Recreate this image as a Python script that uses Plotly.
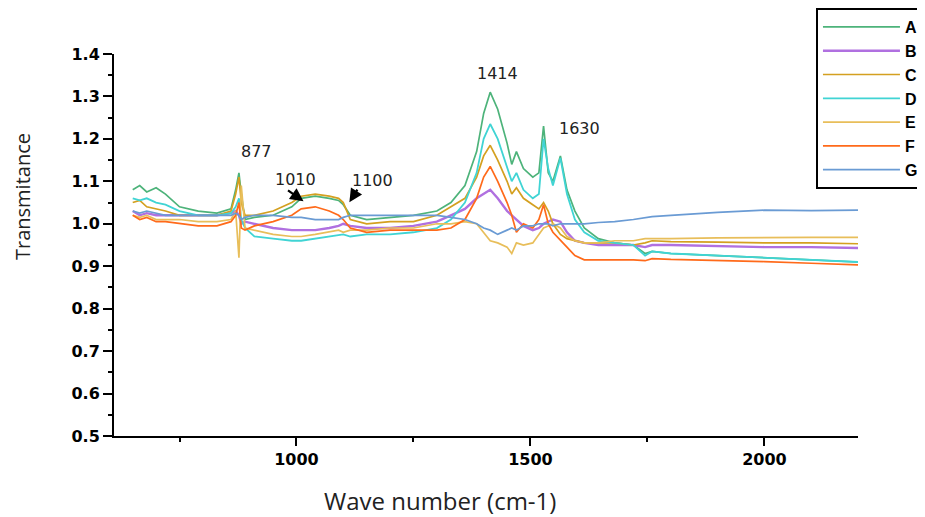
import plotly.graph_objects as go

wavenumber = [650, 665, 680, 700, 720, 750, 790, 830, 860, 870, 877, 882, 890, 910, 950, 990,
              1010, 1040, 1070, 1090, 1100, 1115, 1150, 1200, 1250, 1300, 1330, 1360, 1385, 1400,
              1414, 1430, 1450, 1460, 1470, 1485, 1505, 1518, 1528, 1538, 1548, 1564, 1578, 1595,
              1615, 1645, 1680, 1720, 1745, 1760, 1800, 1900, 2000, 2100, 2200]

series_A = [1.08, 1.09, 1.075, 1.085, 1.07, 1.04, 1.03, 1.025, 1.035, 1.08, 1.12, 1.07, 1.01, 1.015, 1.02, 1.04,
            1.06, 1.065, 1.06, 1.055, 1.045, 1.02, 1.01, 1.015, 1.02, 1.03, 1.05, 1.09, 1.17, 1.26,
            1.31, 1.27, 1.19, 1.14, 1.17, 1.13, 1.11, 1.12, 1.23, 1.12, 1.10, 1.16, 1.08, 1.03,
            0.99, 0.965, 0.955, 0.95, 0.93, 0.935, 0.93, 0.925, 0.92, 0.915, 0.91]
series_B = [1.03, 1.02, 1.025, 1.02, 1.02, 1.02, 1.02, 1.02, 1.025, 1.03, 1.02, 1.0, 1.005, 1.0, 0.99, 0.985,
            0.985, 0.985, 0.99, 0.995, 1.0, 0.995, 0.99, 0.99, 0.995, 1.005, 1.02, 1.035, 1.06, 1.07,
            1.08, 1.06, 1.03, 1.02, 1.01, 0.995, 0.985, 0.99, 1.0, 1.005, 1.01, 1.005, 0.98, 0.96,
            0.955, 0.95, 0.95, 0.95, 0.945, 0.95, 0.95, 0.948, 0.945, 0.945, 0.943]
series_C = [1.05, 1.055, 1.04, 1.035, 1.03, 1.02, 1.02, 1.02, 1.03, 1.07, 1.11, 1.05, 1.02, 1.02, 1.03, 1.05,
            1.065, 1.07, 1.065, 1.06, 1.05, 1.01, 1.0, 1.005, 1.005, 1.02, 1.04, 1.06, 1.11, 1.16,
            1.185, 1.15, 1.10, 1.07, 1.085, 1.06, 1.045, 1.035, 1.05, 1.03, 1.0, 0.975, 0.965, 0.96,
            0.955, 0.955, 0.955, 0.95, 0.955, 0.96, 0.958, 0.957, 0.955, 0.955, 0.953]
series_D = [1.06, 1.055, 1.06, 1.05, 1.045, 1.03, 1.02, 1.02, 1.025, 1.04, 1.06, 1.01, 0.99, 0.97, 0.965, 0.96,
            0.96, 0.965, 0.97, 0.975, 0.975, 0.97, 0.975, 0.975, 0.98, 0.99, 1.01, 1.05, 1.12, 1.2,
            1.235, 1.2, 1.13, 1.10, 1.12, 1.08, 1.06, 1.07, 1.2, 1.13, 1.09, 1.155, 1.07, 1.01,
            0.98, 0.96, 0.955, 0.95, 0.925, 0.935, 0.93, 0.925, 0.92, 0.915, 0.91]
series_E = [1.02, 1.015, 1.02, 1.01, 1.01, 1.01, 1.005, 1.005, 1.01, 1.03, 0.92, 1.09, 0.99, 0.985, 0.975, 0.97,
            0.97, 0.975, 0.98, 0.985, 0.98, 0.985, 0.985, 0.99, 0.99, 1.0, 1.0, 1.005, 1.0, 0.98,
            0.96, 0.955, 0.945, 0.93, 0.955, 0.95, 0.955, 0.975, 0.99, 0.995, 1.0, 0.99, 0.97, 0.96,
            0.955, 0.955, 0.96, 0.96, 0.965, 0.965, 0.965, 0.967, 0.968, 0.968, 0.968]
series_F = [1.02, 1.01, 1.015, 1.005, 1.005, 1.0, 0.995, 0.995, 1.005, 1.02, 1.05, 0.99, 0.985, 0.995, 1.005, 1.02,
            1.035, 1.04, 1.03, 1.02, 1.01, 0.99, 0.98, 0.985, 0.985, 0.985, 0.99, 1.01, 1.06, 1.11,
            1.135, 1.1, 1.05, 1.02, 0.98, 1.0, 0.99, 1.01, 1.045, 1.0, 0.98, 0.96, 0.945, 0.925,
            0.915, 0.915, 0.915, 0.915, 0.913, 0.918, 0.916, 0.914, 0.911, 0.907, 0.903]
series_G = [1.03, 1.025, 1.03, 1.025, 1.02, 1.02, 1.02, 1.02, 1.02, 1.025, 1.02, 1.01, 1.015, 1.02, 1.02, 1.015,
            1.015, 1.01, 1.01, 1.01, 1.015, 1.02, 1.02, 1.02, 1.02, 1.02, 1.015, 1.01, 1.0, 0.99,
            0.985, 0.975, 0.985, 0.99, 0.985, 0.995, 0.995, 1.0, 1.0, 1.0, 0.995, 1.0, 1.0, 1.0,
            1.0, 1.003, 1.005, 1.01, 1.015, 1.017, 1.02, 1.027, 1.032, 1.031, 1.032]

series_names = ["A", "B", "C", "D", "E", "F", "G"]
series_values = [series_A, series_B, series_C, series_D, series_E, series_F, series_G]
series_colors = ["#4DB37A", "#B070E0", "#D4A020", "#40D4D4", "#E8BE5A", "#FF6A1A", "#6A9BD4"]
series_widths = [1.7, 2.4, 1.7, 1.8, 1.7, 1.7, 1.7]

peak_labels = ["877", "1010", "1100", "1414", "1630"]
peak_label_x = [915, 998, 1162, 1429, 1605]
peak_label_y = [1.171, 1.105, 1.103, 1.353, 1.225]

fig = go.Figure()
for name, vals, col, w in zip(series_names, series_values, series_colors, series_widths):
    fig.add_trace(go.Scatter(x=wavenumber, y=vals, mode="lines", name=name,
                             line=dict(color=col, width=w)))

for t, x, y in zip(peak_labels, peak_label_x, peak_label_y):
    fig.add_annotation(x=x, y=y, text=t, showarrow=False,
                       font=dict(family="DejaVu Sans", size=16, color="#222222"))

# arrows
fig.add_annotation(x=1015, y=1.053, ax=-17, ay=-12, text="", showarrow=True,
                   arrowhead=2, arrowsize=1.2, arrowwidth=2.2, arrowcolor="black")
fig.add_annotation(x=1113, y=1.051, ax=9, ay=-14, text="", showarrow=True,
                   arrowhead=2, arrowsize=1.2, arrowwidth=2.2, arrowcolor="black")

# axis titles
fig.add_annotation(xref="paper", yref="paper", x=0.438, y=-0.17, xanchor="center", yanchor="middle",
                   text="Wave number (cm-1)", showarrow=False,
                   font=dict(family="Open Sans", size=24, color="#222222"))
fig.add_annotation(xref="paper", yref="paper", x=-0.1223, y=0.6257, xanchor="center", yanchor="middle",
                   text="Transmitance", textangle=-90, showarrow=False,
                   font=dict(family="Open Sans", size=20, color="#222222"))

fig.update_layout(
    width=925, height=517,
    margin=dict(l=106, r=75, t=46, b=89, autoexpand=False),
    plot_bgcolor="white", paper_bgcolor="white",
    showlegend=True,
    legend=dict(x=0.9435, y=1.1204, xanchor="left", yanchor="top",
                bordercolor="black", borderwidth=2, bgcolor="white",
                font=dict(family="Liberation Sans", size=16, color="black", weight="bold"),
                itemwidth=77, tracegroupgap=0),
    xaxis=dict(range=[610, 2200], showgrid=False, zeroline=False,
               showline=True, linecolor="black", linewidth=2,
               ticks="outside", ticklen=8, tickwidth=2, tickcolor="black",
               tickvals=[1000, 1500, 2000],
               minor=dict(tickvals=[750, 1250, 1750], ticks="outside", ticklen=4, tickcolor="black"),
               tickfont=dict(family="DejaVu Sans", size=16, color="black", weight="bold")),
    yaxis=dict(range=[0.5, 1.4], showgrid=False, zeroline=False,
               showline=True, linecolor="black", linewidth=2,
               ticks="outside", ticklen=9, tickwidth=2, tickcolor="black",
               tickvals=[0.5, 0.6, 0.7, 0.8, 0.9, 1.0, 1.1, 1.2, 1.3, 1.4],
               ticktext=["0.5", "0.6", "0.7", "0.8", "0.9", "1.0", "1.1", "1.2", "1.3", "1.4"],
               minor=dict(dtick=0.05, tick0=0.5, ticks="outside", ticklen=4, tickcolor="black"),
               tickfont=dict(family="DejaVu Sans", size=16, color="black", weight="bold")),
)

fig.write_html("out.html")
